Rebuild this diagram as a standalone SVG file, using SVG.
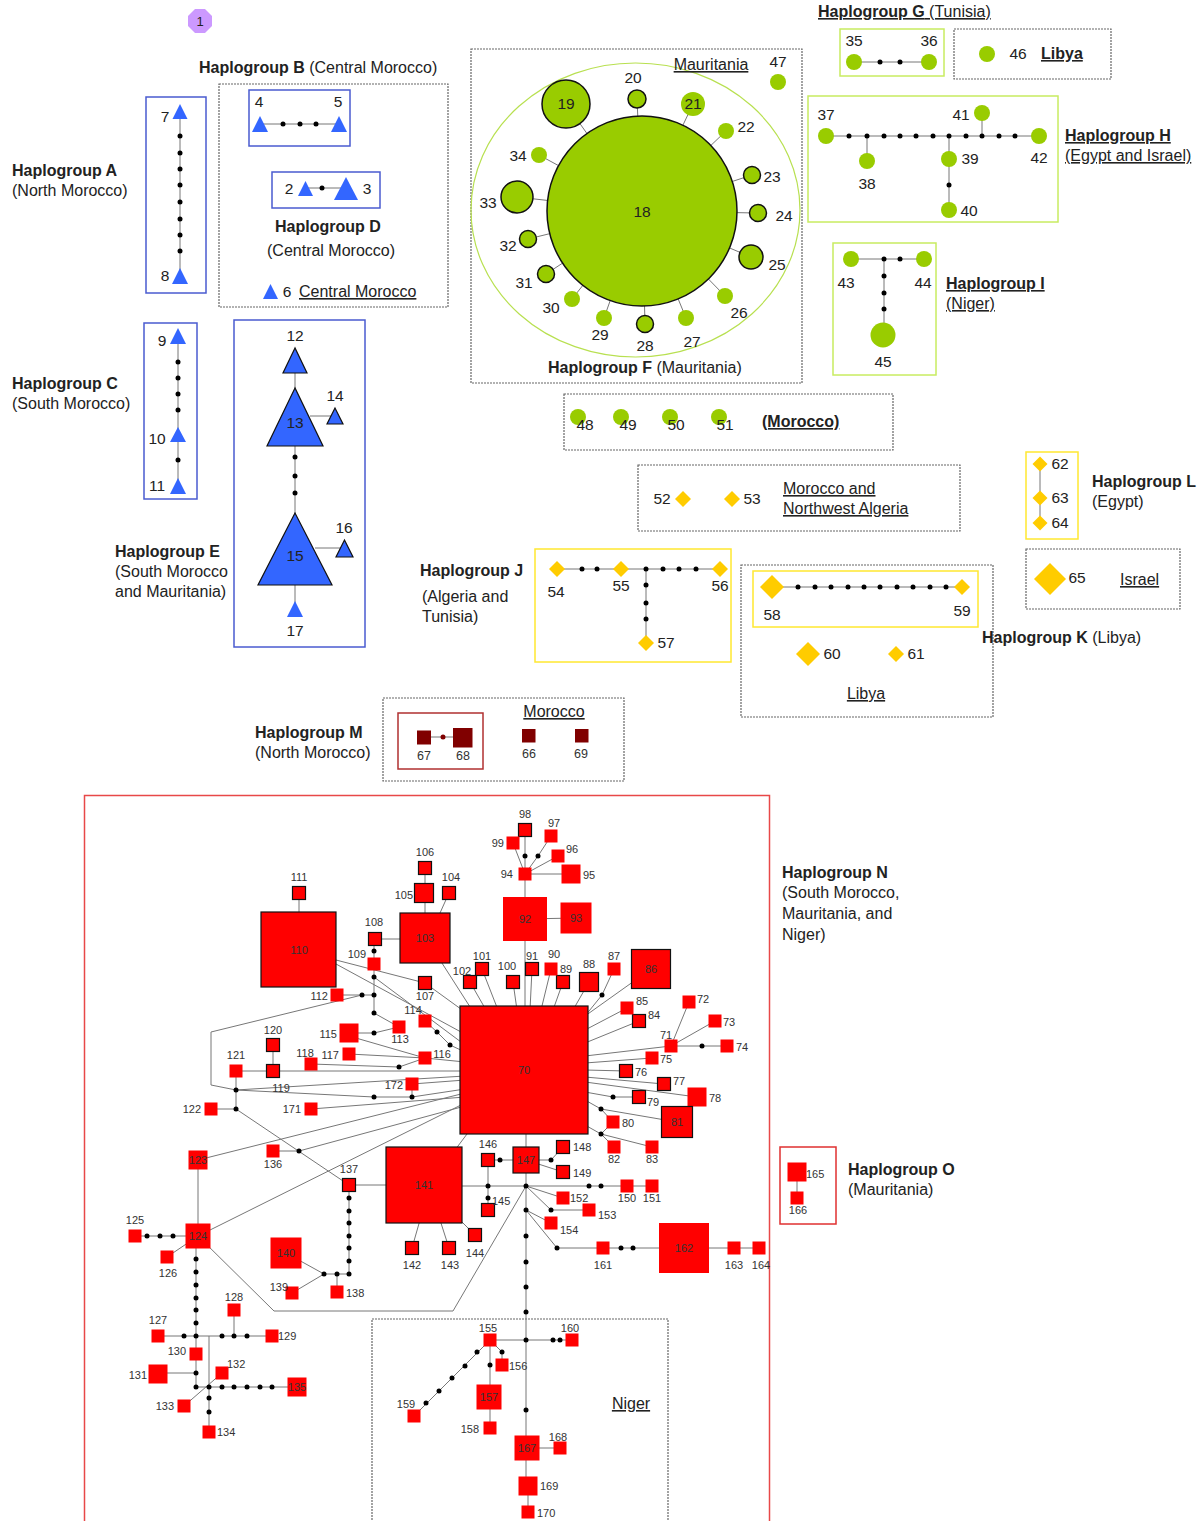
<svg xmlns="http://www.w3.org/2000/svg" width="1204" height="1521" viewBox="0 0 1204 1521">
<style>
text{font-family:"Liberation Sans",Arial,sans-serif;fill:#222}
.h{font-size:16px}
.b{font-weight:bold}
.n{font-size:15.5px}
.s{font-size:11px;fill:#333}
.m{font-size:12.5px;fill:#333}
.u{text-decoration:underline}
.c{text-anchor:middle}
.e{text-anchor:end}
.ln{stroke:#777;stroke-width:1;fill:none}
.dot{fill:#000}
.tri{fill:#3366ff}
.trib{fill:#3366ff;stroke:#111;stroke-width:1.2}
.g{fill:#99cc00}
.gb{fill:#99cc00;stroke:#111;stroke-width:1.5}
.y{fill:#ffcc00}
.r{fill:#ff0000}
.rb{fill:#ff0000;stroke:#111;stroke-width:1.2}
.dr{fill:#800000}
.bbox{fill:none;stroke:#4a5bd0;stroke-width:1.5}
.gbox{fill:none;stroke:#c8ec60;stroke-width:1.5}
.ybox{fill:none;stroke:#ffe830;stroke-width:1.5}
.dbox{fill:none;stroke:#666;stroke-width:1.2;stroke-dasharray:2 1}
</style>
<defs>
<circle id="d" r="2.5" class="dot"/>
</defs>

<!-- marker 1 -->
<g id="marker1">
<polygon points="195,9 205,9 212,16 212,26 205,33 195,33 188,26 188,16" fill="#cc99ff"/>
<text x="200" y="26" class="c" style="font-size:13px">1</text>
</g>

<!-- boxes -->
<g id="boxes">
<rect x="219" y="84" width="229" height="223" class="dbox"/>
<rect x="146" y="97" width="60" height="196" class="bbox"/>
<rect x="249" y="90" width="101" height="56" class="bbox"/>
<rect x="272" y="172" width="108" height="36" class="bbox"/>
<rect x="144" y="323" width="53" height="176" class="bbox"/>
<rect x="234" y="320" width="131" height="327" class="bbox"/>
<rect x="471" y="49" width="331" height="334" class="dbox"/>
<ellipse cx="635.5" cy="210" rx="164.5" ry="147" fill="none" stroke="#b8e050" stroke-width="1.2"/>
<rect x="840" y="29" width="104" height="47" class="gbox"/>
<rect x="954" y="29" width="157" height="50" class="dbox"/>
<rect x="808" y="96" width="250" height="126" class="gbox"/>
<rect x="833" y="243" width="103" height="132" class="gbox"/>
<rect x="564" y="394" width="329" height="56" class="dbox"/>
<rect x="638" y="465" width="322" height="66" class="dbox"/>
<rect x="1026" y="452" width="52" height="87" class="ybox"/>
<rect x="1026" y="549" width="154" height="60" class="dbox"/>
<rect x="535" y="549" width="196" height="113" class="ybox"/>
<rect x="741" y="565" width="252" height="152" class="dbox"/>
<rect x="753" y="571" width="225" height="56" class="ybox"/>
<rect x="383" y="698" width="241" height="83" class="dbox"/>
<rect x="398" y="713" width="85" height="56" fill="none" stroke="#b03030" stroke-width="1.5"/>
<rect x="84.5" y="795.5" width="685" height="740" fill="none" stroke="#e84848" stroke-width="1.5"/>
<rect x="372" y="1319" width="296" height="220" class="dbox"/>
<rect x="780" y="1147" width="56" height="77" fill="none" stroke="#e03030" stroke-width="1.5"/>
</g>

<!-- labels -->
<g id="labels">
<text x="199" y="73" class="h"><tspan class="b">Haplogroup B</tspan> (Central Morocco)</text>
<text x="12" y="176" class="h b">Haplogroup A</text>
<text x="12" y="196" class="h">(North Morocco)</text>
<text x="275" y="232" class="h b">Haplogroup D</text>
<text x="267" y="256" class="h">(Central Morocco)</text>
<text x="299" y="297" class="h u">Central Morocco</text>
<text x="12" y="389" class="h b">Haplogroup C</text>
<text x="12" y="409" class="h">(South Morocco)</text>
<text x="115" y="557" class="h b">Haplogroup E</text>
<text x="115" y="577" class="h">(South Morocco</text>
<text x="115" y="597" class="h">and Mauritania)</text>
<text x="711" y="70" class="h u c">Mauritania</text>
<text x="548" y="373" class="h"><tspan class="b">Haplogroup F</tspan> (Mauritania)</text>
<text x="818" y="17" class="h u"><tspan class="b">Haplogroup G</tspan> (Tunisia)</text>
<text x="1041" y="59" class="h b u">Libya</text>
<text x="1065" y="141" class="h b u">Haplogroup H</text>
<text x="1065" y="161" class="h u">(Egypt and Israel)</text>
<text x="946" y="289" class="h b u">Haplogroup I</text>
<text x="946" y="309" class="h u">(Niger)</text>
<text x="762" y="427" class="h b u">(Morocco)</text>
<text x="783" y="494" class="h u">Morocco and</text>
<text x="783" y="514" class="h u">Northwest Algeria</text>
<text x="1092" y="487" class="h b">Haplogroup L</text>
<text x="1092" y="507" class="h">(Egypt)</text>
<text x="1120" y="585" class="h u">Israel</text>
<text x="420" y="576" class="h b">Haplogroup J</text>
<text x="422" y="602" class="h">(Algeria and</text>
<text x="422" y="622" class="h">Tunisia)</text>
<text x="982" y="643" class="h"><tspan class="b">Haplogroup K</tspan> (Libya)</text>
<text x="866" y="699" class="h u c">Libya</text>
<text x="255" y="738" class="h b">Haplogroup M</text>
<text x="255" y="758" class="h">(North Morocco)</text>
<text x="554" y="717" class="h u c">Morocco</text>
<text x="782" y="878" class="h b">Haplogroup N</text>
<text x="782" y="898" class="h">(South Morocco,</text>
<text x="782" y="919" class="h">Mauritania, and</text>
<text x="782" y="940" class="h">Niger)</text>
<text x="631" y="1409" class="h u c">Niger</text>
<text x="848" y="1175" class="h b">Haplogroup O</text>
<text x="848" y="1195" class="h">(Mauritania)</text>
</g>

<!-- connectors -->
<g id="connectors" class="ln">
<line x1="180" y1="112" x2="180" y2="276"/>
<line x1="260" y1="124" x2="339" y2="124"/>
<line x1="305" y1="188" x2="346" y2="188"/>
<line x1="178" y1="336" x2="178" y2="486"/>
<line x1="295" y1="360" x2="295" y2="610"/>
<line x1="310" y1="416" x2="335" y2="416"/>
<line x1="315" y1="548" x2="344" y2="548"/>
<line x1="642" y1="211" x2="566" y2="104"/>
<line x1="642" y1="211" x2="637" y2="99"/>
<line x1="642" y1="211" x2="693" y2="104"/>
<line x1="642" y1="211" x2="726" y2="131"/>
<line x1="642" y1="211" x2="752" y2="175"/>
<line x1="642" y1="211" x2="758" y2="213"/>
<line x1="642" y1="211" x2="751" y2="257"/>
<line x1="642" y1="211" x2="725" y2="296"/>
<line x1="642" y1="211" x2="686" y2="318"/>
<line x1="642" y1="211" x2="645" y2="324"/>
<line x1="642" y1="211" x2="604" y2="318"/>
<line x1="642" y1="211" x2="572" y2="299"/>
<line x1="642" y1="211" x2="546" y2="274"/>
<line x1="642" y1="211" x2="528" y2="239"/>
<line x1="642" y1="211" x2="517" y2="197"/>
<line x1="642" y1="211" x2="539" y2="155"/>
<line x1="854" y1="62" x2="929" y2="62"/>
<line x1="826" y1="136" x2="1039" y2="136"/>
<line x1="867" y1="136" x2="867" y2="161"/>
<line x1="949" y1="136" x2="949" y2="210"/>
<line x1="982" y1="136" x2="982" y2="113"/>
<line x1="851" y1="259" x2="924" y2="259"/>
<line x1="884" y1="259" x2="884" y2="335"/>
<line x1="557" y1="569" x2="720" y2="569"/>
<line x1="646" y1="569" x2="646" y2="643"/>
<line x1="772" y1="587" x2="962" y2="587"/>
<line x1="1040" y1="464" x2="1040" y2="523"/>
<line x1="424" y1="737" x2="463" y2="737"/>
<line x1="299" y1="893" x2="299" y2="912"/>
<line x1="336" y1="960" x2="425" y2="983"/>
<line x1="336" y1="964" x2="461" y2="1032"/>
<line x1="375" y1="939" x2="400" y2="939"/>
<line x1="374" y1="939" x2="374" y2="1013"/>
<line x1="374" y1="977" x2="461" y2="1042"/>
<line x1="425" y1="868" x2="425" y2="913"/>
<line x1="449" y1="893" x2="440" y2="913"/>
<line x1="440" y1="960" x2="472" y2="1010"/>
<line x1="425" y1="983" x2="465" y2="1012"/>
<line x1="425" y1="1021" x2="437" y2="1032"/>
<polyline points="437,1032 450,1045 465,1052"/>
<line x1="470" y1="982" x2="486" y2="1010"/>
<line x1="482" y1="969" x2="498" y2="1010"/>
<line x1="513" y1="982" x2="517" y2="1010"/>
<line x1="525" y1="830" x2="525" y2="1010"/>
<line x1="532" y1="969" x2="530" y2="1010"/>
<line x1="551" y1="969" x2="541" y2="1010"/>
<line x1="563" y1="982" x2="553" y2="1010"/>
<line x1="589" y1="982" x2="573" y2="1010"/>
<polyline points="614,969 602,995 585,1016"/>
<line x1="651" y1="969" x2="585" y2="1016"/>
<line x1="627" y1="1008" x2="585" y2="1030"/>
<line x1="639" y1="1021" x2="585" y2="1043"/>
<line x1="671" y1="1046" x2="585" y2="1056"/>
<line x1="652" y1="1058" x2="585" y2="1063"/>
<line x1="626" y1="1071" x2="585" y2="1070"/>
<line x1="664" y1="1084" x2="585" y2="1077"/>
<line x1="697" y1="1097" x2="585" y2="1082"/>
<polyline points="639,1097 613,1097 585,1092"/>
<polyline points="585,1100 601,1109 677,1122"/>
<line x1="601" y1="1109" x2="613" y2="1122"/>
<polyline points="585,1125 601,1134 614,1147"/>
<line x1="601" y1="1134" x2="652" y2="1147"/>
<line x1="601" y1="1134" x2="613" y2="1122"/>
<line x1="671" y1="1046" x2="689" y2="1002"/>
<line x1="671" y1="1046" x2="715" y2="1021"/>
<line x1="671" y1="1046" x2="727" y2="1046"/>
<line x1="525" y1="919" x2="576" y2="918"/>
<line x1="525" y1="874" x2="513" y2="843"/>
<polyline points="525,874 538,856 551,836"/>
<line x1="525" y1="874" x2="558" y2="856"/>
<line x1="525" y1="874" x2="571" y2="874"/>
<line x1="337" y1="995" x2="374" y2="995"/>
<line x1="374" y1="1013" x2="399" y2="1027"/>
<polyline points="349,1033 374,1033 399,1027"/>
<line x1="349" y1="1036" x2="425" y2="1058"/>
<line x1="349" y1="1054" x2="425" y2="1058"/>
<polyline points="311,1064 399,1067 425,1058"/>
<line x1="425" y1="1058" x2="465" y2="1062"/>
<line x1="273" y1="1045" x2="273" y2="1071"/>
<line x1="236" y1="1071" x2="465" y2="1071"/>
<line x1="236" y1="1071" x2="236" y2="1109"/>
<line x1="211" y1="1109" x2="236" y2="1109"/>
<polyline points="362,995 211,1032 211,1085 236,1090"/>
<line x1="236" y1="1090" x2="465" y2="1076"/>
<polyline points="236,1090 374,1097 412,1097 465,1089"/>
<line x1="412" y1="1084" x2="412" y2="1097"/>
<line x1="412" y1="1084" x2="465" y2="1080"/>
<line x1="311" y1="1109" x2="465" y2="1097"/>
<line x1="236" y1="1109" x2="349" y2="1185"/>
<line x1="198" y1="1160" x2="465" y2="1093"/>
<polyline points="273,1151 299,1151 465,1106"/>
<line x1="198" y1="1236" x2="465" y2="1103"/>
<line x1="349" y1="1185" x2="424" y2="1185"/>
<polyline points="349,1185 349,1274 324,1274"/>
<line x1="337" y1="1274" x2="337" y2="1292"/>
<line x1="292" y1="1293" x2="324" y2="1274"/>
<line x1="286" y1="1253" x2="324" y2="1274"/>
<line x1="455" y1="1150" x2="470" y2="1130"/>
<line x1="420" y1="1220" x2="412" y2="1248"/>
<line x1="440" y1="1220" x2="449" y2="1248"/>
<line x1="460" y1="1220" x2="475" y2="1235"/>
<line x1="424" y1="1186" x2="526" y2="1186"/>
<line x1="488" y1="1160" x2="526" y2="1160"/>
<line x1="488" y1="1160" x2="488" y2="1210"/>
<line x1="526" y1="1130" x2="526" y2="1486"/>
<polyline points="526,1160 551,1160 563,1147"/>
<line x1="526" y1="1160" x2="563" y2="1172"/>
<line x1="526" y1="1186" x2="652" y2="1186"/>
<line x1="526" y1="1186" x2="563" y2="1198"/>
<polyline points="526,1186 551,1210 589,1210"/>
<line x1="526" y1="1210" x2="551" y2="1223"/>
<polyline points="526,1210 557,1248 759,1248"/>
<polyline points="526,1186 453,1311 274,1311 198,1236"/>
<line x1="198" y1="1160" x2="198" y2="1236"/>
<line x1="135" y1="1236" x2="198" y2="1236"/>
<line x1="167" y1="1257" x2="198" y2="1236"/>
<line x1="196" y1="1236" x2="196" y2="1387"/>
<line x1="158" y1="1336" x2="272" y2="1336"/>
<line x1="234" y1="1310" x2="234" y2="1336"/>
<line x1="158" y1="1373" x2="196" y2="1373"/>
<line x1="209" y1="1336" x2="209" y2="1432"/>
<line x1="196" y1="1387" x2="297" y2="1387"/>
<line x1="184" y1="1406" x2="222" y2="1373"/>
<line x1="490" y1="1340" x2="572" y2="1340"/>
<polyline points="490,1340 502,1352 502,1365"/>
<line x1="490" y1="1340" x2="490" y2="1428"/>
<line x1="490" y1="1340" x2="414" y2="1416"/>
<line x1="527" y1="1448" x2="560" y2="1448"/>
<line x1="528" y1="1486" x2="528" y2="1512"/>
<line x1="797" y1="1172" x2="797" y2="1198"/>
</g>

<!-- connector dots -->
<g id="dots">
<use href="#d" x="180" y="136"/><use href="#d" x="180" y="153"/><use href="#d" x="180" y="169"/><use href="#d" x="180" y="185"/><use href="#d" x="180" y="202"/><use href="#d" x="180" y="219"/><use href="#d" x="180" y="235"/><use href="#d" x="180" y="251"/>
<use href="#d" x="283" y="124"/><use href="#d" x="300" y="124"/><use href="#d" x="316" y="124"/>
<use href="#d" x="322" y="188"/>
<use href="#d" x="178" y="362"/><use href="#d" x="178" y="378"/><use href="#d" x="178" y="394"/><use href="#d" x="178" y="410"/><use href="#d" x="178" y="460"/>
<use href="#d" x="295" y="457"/><use href="#d" x="295" y="476"/><use href="#d" x="295" y="493"/>
<use href="#d" x="880" y="62"/><use href="#d" x="900" y="62"/>
<use href="#d" x="849" y="136"/><use href="#d" x="867" y="136"/><use href="#d" x="884" y="136"/><use href="#d" x="900" y="136"/><use href="#d" x="916" y="136"/><use href="#d" x="933" y="136"/><use href="#d" x="949" y="136"/><use href="#d" x="966" y="136"/><use href="#d" x="982" y="136"/><use href="#d" x="999" y="136"/><use href="#d" x="1015" y="136"/><use href="#d" x="949" y="185"/>
<use href="#d" x="884" y="259"/><use href="#d" x="900" y="259"/><use href="#d" x="884" y="276"/><use href="#d" x="884" y="293"/><use href="#d" x="884" y="309"/>
<use href="#d" x="582" y="569"/><use href="#d" x="597" y="569"/><use href="#d" x="646" y="569"/><use href="#d" x="663" y="569"/><use href="#d" x="679" y="569"/><use href="#d" x="696" y="569"/><use href="#d" x="646" y="585"/><use href="#d" x="646" y="603"/><use href="#d" x="646" y="619"/>
<use href="#d" x="798" y="587"/><use href="#d" x="815" y="587"/><use href="#d" x="831" y="587"/><use href="#d" x="848" y="587"/><use href="#d" x="864" y="587"/><use href="#d" x="880" y="587"/><use href="#d" x="897" y="587"/><use href="#d" x="913" y="587"/><use href="#d" x="930" y="587"/><use href="#d" x="946" y="587"/>
<circle cx="443" cy="737" r="2.5" class="dr"/>
<use href="#d" x="525" y="856"/><use href="#d" x="538" y="856"/><use href="#d" x="602" y="995"/><use href="#d" x="702" y="1046"/><use href="#d" x="613" y="1097"/><use href="#d" x="601" y="1109"/><use href="#d" x="601" y="1134"/>
<use href="#d" x="500" y="1160"/><use href="#d" x="551" y="1160"/><use href="#d" x="526" y="1186"/><use href="#d" x="589" y="1186"/><use href="#d" x="601" y="1186"/><use href="#d" x="488" y="1186"/><use href="#d" x="488" y="1198"/><use href="#d" x="551" y="1210"/><use href="#d" x="526" y="1210"/><use href="#d" x="557" y="1248"/><use href="#d" x="621" y="1248"/><use href="#d" x="633" y="1248"/><use href="#d" x="526" y="1236"/><use href="#d" x="526" y="1262"/><use href="#d" x="526" y="1287"/><use href="#d" x="526" y="1312"/>
<use href="#d" x="374" y="951"/><use href="#d" x="374" y="977"/><use href="#d" x="374" y="995"/><use href="#d" x="362" y="995"/><use href="#d" x="374" y="1013"/><use href="#d" x="374" y="1033"/><use href="#d" x="399" y="1067"/><use href="#d" x="437" y="1032"/><use href="#d" x="450" y="1045"/>
<use href="#d" x="236" y="1090"/><use href="#d" x="374" y="1097"/><use href="#d" x="412" y="1097"/><use href="#d" x="236" y="1109"/><use href="#d" x="299" y="1151"/>
<use href="#d" x="349" y="1198"/><use href="#d" x="349" y="1211"/><use href="#d" x="349" y="1223"/><use href="#d" x="349" y="1236"/><use href="#d" x="349" y="1248"/><use href="#d" x="349" y="1261"/><use href="#d" x="349" y="1274"/><use href="#d" x="337" y="1274"/><use href="#d" x="324" y="1274"/>
<use href="#d" x="147" y="1236"/><use href="#d" x="160" y="1236"/><use href="#d" x="173" y="1236"/>
<use href="#d" x="196" y="1259"/><use href="#d" x="196" y="1272"/><use href="#d" x="196" y="1285"/><use href="#d" x="196" y="1298"/><use href="#d" x="196" y="1310"/><use href="#d" x="196" y="1323"/><use href="#d" x="196" y="1336"/>
<use href="#d" x="184" y="1336"/><use href="#d" x="222" y="1336"/><use href="#d" x="234" y="1336"/><use href="#d" x="247" y="1336"/>
<use href="#d" x="196" y="1373"/><use href="#d" x="196" y="1387"/><use href="#d" x="209" y="1387"/><use href="#d" x="222" y="1387"/><use href="#d" x="234" y="1387"/><use href="#d" x="247" y="1387"/><use href="#d" x="260" y="1387"/><use href="#d" x="272" y="1387"/><use href="#d" x="209" y="1398"/><use href="#d" x="209" y="1412"/>
<use href="#d" x="526" y="1340"/><use href="#d" x="553" y="1340"/><use href="#d" x="560" y="1340"/><use href="#d" x="502" y="1352"/><use href="#d" x="490" y="1365"/><use href="#d" x="477" y="1352"/><use href="#d" x="465" y="1366"/><use href="#d" x="452" y="1378"/><use href="#d" x="439" y="1391"/><use href="#d" x="426" y="1403"/><use href="#d" x="526" y="1410"/>
</g>

<!-- triangle nodes -->
<g id="n7"><polygon points="180,104 172.5,119 187.5,119" class="tri"/><text x="165" y="122" class="n c">7</text></g>
<g id="n8"><polygon points="180,268 172,284 188,284" class="tri"/><text x="165" y="281" class="n c">8</text></g>
<g id="n4"><polygon points="260,116 252,132 268,132" class="tri"/><text x="259" y="107" class="n c">4</text></g>
<g id="n5"><polygon points="339,116 331,132 347,132" class="tri"/><text x="338" y="107" class="n c">5</text></g>
<g id="n2"><polygon points="305.5,181 298,196 313,196" class="tri"/><text x="289" y="194" class="n c">2</text></g>
<g id="n3"><polygon points="346,177 334,200 358,200" class="tri"/><text x="367" y="194" class="n c">3</text></g>
<g id="n6"><polygon points="270.5,284 263,299 278,299" class="tri"/><text x="287" y="297" class="n c">6</text></g>
<g id="n9"><polygon points="178,328 170,344 186,344" class="tri"/><text x="162" y="346" class="n c">9</text></g>
<g id="n10"><polygon points="178,427 170,442 186,442" class="tri"/><text x="157" y="444" class="n c">10</text></g>
<g id="n11"><polygon points="178,478 170,494 186,494" class="tri"/><text x="157" y="491" class="n c">11</text></g>
<g id="n12"><polygon points="295,348 283,373 307,373" class="trib"/><text x="295" y="341" class="n c">12</text></g>
<g id="n13"><polygon points="295,388 267,446 323,446" class="trib"/><text x="295" y="428" class="n c">13</text></g>
<g id="n14"><polygon points="335,408 327,424 343,424" class="trib"/><text x="335" y="401" class="n c">14</text></g>
<g id="n15"><polygon points="295,513 258,585 332,585" class="trib"/><text x="295" y="561" class="n c">15</text></g>
<g id="n16"><polygon points="344.5,540 336,557 353,557" class="trib"/><text x="344" y="533" class="n c">16</text></g>
<g id="n17"><polygon points="295,601 287,617 303,617" class="tri"/><text x="295" y="636" class="n c">17</text></g>

<!-- circle nodes F -->
<g id="n18"><circle cx="642" cy="211" r="95" class="gb"/><text x="642" y="217" class="n c">18</text></g>
<g id="n19"><circle cx="566" cy="104" r="24" class="gb"/><text x="566" y="109" class="n c">19</text></g>
<g id="n20"><circle cx="637" cy="99" r="9" class="gb"/><text x="633" y="83" class="n c">20</text></g>
<g id="n21"><circle cx="693" cy="104" r="12" class="g"/><text x="693" y="109" class="n c">21</text></g>
<g id="n22"><circle cx="726" cy="131" r="8" class="g"/><text x="746" y="132" class="n c">22</text></g>
<g id="n23"><circle cx="752" cy="175" r="8.5" class="gb"/><text x="772" y="182" class="n c">23</text></g>
<g id="n24"><circle cx="758" cy="213" r="8.5" class="gb"/><text x="784" y="221" class="n c">24</text></g>
<g id="n25"><circle cx="751" cy="257" r="12" class="gb"/><text x="777" y="270" class="n c">25</text></g>
<g id="n26"><circle cx="725" cy="296" r="8" class="g"/><text x="739" y="318" class="n c">26</text></g>
<g id="n27"><circle cx="686" cy="318" r="8" class="g"/><text x="692" y="347" class="n c">27</text></g>
<g id="n28"><circle cx="645" cy="324" r="8.5" class="gb"/><text x="645" y="351" class="n c">28</text></g>
<g id="n29"><circle cx="604" cy="318" r="8" class="g"/><text x="600" y="340" class="n c">29</text></g>
<g id="n30"><circle cx="572" cy="299" r="8" class="g"/><text x="551" y="313" class="n c">30</text></g>
<g id="n31"><circle cx="546" cy="274" r="8.5" class="gb"/><text x="524" y="288" class="n c">31</text></g>
<g id="n32"><circle cx="528" cy="239" r="8.5" class="gb"/><text x="508" y="251" class="n c">32</text></g>
<g id="n33"><circle cx="517" cy="197" r="16" class="gb"/><text x="488" y="208" class="n c">33</text></g>
<g id="n34"><circle cx="539" cy="155" r="8" class="g"/><text x="518" y="161" class="n c">34</text></g>
<g id="n47"><circle cx="778" cy="82" r="8" class="g"/><text x="778" y="67" class="n c">47</text></g>

<!-- G H I -->
<g id="n35"><circle cx="854" cy="62" r="8" class="g"/><text x="854" y="46" class="n c">35</text></g>
<g id="n36"><circle cx="929" cy="62" r="8" class="g"/><text x="929" y="46" class="n c">36</text></g>
<g id="n46"><circle cx="987" cy="54" r="8" class="g"/><text x="1018" y="59" class="n c">46</text></g>
<g id="n37"><circle cx="826" cy="136" r="8" class="g"/><text x="826" y="120" class="n c">37</text></g>
<g id="n38"><circle cx="867" cy="161" r="8" class="g"/><text x="867" y="189" class="n c">38</text></g>
<g id="n39"><circle cx="949" cy="159" r="8" class="g"/><text x="970" y="164" class="n c">39</text></g>
<g id="n40"><circle cx="949" cy="210" r="8" class="g"/><text x="969" y="216" class="n c">40</text></g>
<g id="n41"><circle cx="982" cy="113" r="8" class="g"/><text x="961" y="120" class="n c">41</text></g>
<g id="n42"><circle cx="1039" cy="136" r="8" class="g"/><text x="1039" y="163" class="n c">42</text></g>
<g id="n43"><circle cx="851" cy="259" r="8" class="g"/><text x="846" y="288" class="n c">43</text></g>
<g id="n44"><circle cx="924" cy="259" r="8" class="g"/><text x="923" y="288" class="n c">44</text></g>
<g id="n45"><circle cx="883" cy="335" r="12.5" class="g"/><text x="883" y="367" class="n c">45</text></g>

<!-- Morocco circles -->
<g id="n48"><circle cx="578" cy="417" r="8" class="g"/><text x="585" y="430" class="n c">48</text></g>
<g id="n49"><circle cx="621" cy="417" r="8" class="g"/><text x="628" y="430" class="n c">49</text></g>
<g id="n50"><circle cx="670" cy="417" r="8" class="g"/><text x="676" y="430" class="n c">50</text></g>
<g id="n51"><circle cx="719" cy="417" r="8" class="g"/><text x="725" y="430" class="n c">51</text></g>

<!-- diamonds -->
<g id="n52"><polygon points="683,491 691,499 683,507 675,499" class="y"/><text x="662" y="504" class="n c">52</text></g>
<g id="n53"><polygon points="732,491 740,499 732,507 724,499" class="y"/><text x="752" y="504" class="n c">53</text></g>
<g id="n62"><polygon points="1040,456.5 1047.5,464 1040,471.5 1032.5,464" class="y"/><text x="1060" y="469" class="n c">62</text></g>
<g id="n63"><polygon points="1040,490.5 1047.5,498 1040,505.5 1032.5,498" class="y"/><text x="1060" y="503" class="n c">63</text></g>
<g id="n64"><polygon points="1040,515.5 1047.5,523 1040,530.5 1032.5,523" class="y"/><text x="1060" y="528" class="n c">64</text></g>
<g id="n65"><polygon points="1050,563 1066,579 1050,595 1034,579" class="y"/><text x="1077" y="583" class="n c">65</text></g>
<g id="n54"><polygon points="557,561 565,569 557,577 549,569" class="y"/><text x="556" y="597" class="n c">54</text></g>
<g id="n55"><polygon points="621,561 629,569 621,577 613,569" class="y"/><text x="621" y="591" class="n c">55</text></g>
<g id="n56"><polygon points="720,561 728,569 720,577 712,569" class="y"/><text x="720" y="591" class="n c">56</text></g>
<g id="n57"><polygon points="646,635 654,643 646,651 638,643" class="y"/><text x="666" y="648" class="n c">57</text></g>
<g id="n58"><polygon points="772,575 784,587 772,599 760,587" class="y"/><text x="772" y="620" class="n c">58</text></g>
<g id="n59"><polygon points="962,579 970,587 962,595 954,587" class="y"/><text x="962" y="616" class="n c">59</text></g>
<g id="n60"><polygon points="808,642 820,654 808,666 796,654" class="y"/><text x="832" y="659" class="n c">60</text></g>
<g id="n61"><polygon points="896,646 904,654 896,662 888,654" class="y"/><text x="916" y="659" class="n c">61</text></g>

<!-- M -->
<g id="n67"><rect x="417" y="730.5" width="14" height="14" class="dr"/><text x="424" y="760" class="m c">67</text></g>
<g id="n68"><rect x="453" y="728" width="19.5" height="19.5" class="dr"/><text x="463" y="760" class="m c">68</text></g>
<g id="n66"><rect x="522" y="729" width="13.5" height="13.5" class="dr"/><text x="529" y="758" class="m c">66</text></g>
<g id="n69"><rect x="575" y="729" width="13.5" height="13.5" class="dr"/><text x="581" y="758" class="m c">69</text></g>

<!-- N nodes -->
<g id="n70"><rect x="460" y="1006" width="128" height="128" class="rb"/><text x="524" y="1074" class="s c">70</text></g>
<g id="n71"><rect x="664.5" y="1039.5" width="13" height="13" class="r"/><text x="666" y="1039" class="s c">71</text></g>
<g id="n72"><rect x="682.5" y="995.5" width="13" height="13" class="r"/><text x="697" y="1003" class="s">72</text></g>
<g id="n73"><rect x="708.5" y="1014.5" width="13" height="13" class="r"/><text x="723" y="1026" class="s">73</text></g>
<g id="n74"><rect x="720.5" y="1039.5" width="13" height="13" class="r"/><text x="736" y="1051" class="s">74</text></g>
<g id="n75"><rect x="645.5" y="1051.5" width="13" height="13" class="r"/><text x="660" y="1063" class="s">75</text></g>
<g id="n76"><rect x="619.5" y="1064.5" width="13" height="13" class="rb"/><text x="635" y="1076" class="s">76</text></g>
<g id="n77"><rect x="657.5" y="1077.5" width="13" height="13" class="rb"/><text x="673" y="1085" class="s">77</text></g>
<g id="n78"><rect x="687.5" y="1087.5" width="19" height="19" class="r"/><text x="709" y="1102" class="s">78</text></g>
<g id="n79"><rect x="632.5" y="1090.5" width="13" height="13" class="rb"/><text x="647" y="1106" class="s">79</text></g>
<g id="n80"><rect x="606.5" y="1115.5" width="13" height="13" class="r"/><text x="622" y="1127" class="s">80</text></g>
<g id="n81"><rect x="661.5" y="1106.5" width="31" height="31" class="rb"/><text x="677" y="1126" class="s c">81</text></g>
<g id="n82"><rect x="607.5" y="1140.5" width="13" height="13" class="r"/><text x="614" y="1163" class="s c">82</text></g>
<g id="n83"><rect x="645.5" y="1140.5" width="13" height="13" class="r"/><text x="652" y="1163" class="s c">83</text></g>
<g id="n84"><rect x="632.5" y="1014.5" width="13" height="13" class="rb"/><text x="648" y="1019" class="s">84</text></g>
<g id="n85"><rect x="620.5" y="1001.5" width="13" height="13" class="r"/><text x="636" y="1005" class="s">85</text></g>
<g id="n86"><rect x="631.5" y="949.5" width="39" height="39" class="rb"/><text x="651" y="973" class="s c">86</text></g>
<g id="n87"><rect x="607.5" y="962.5" width="13" height="13" class="r"/><text x="614" y="960" class="s c">87</text></g>
<g id="n88"><rect x="579.5" y="972.5" width="19" height="19" class="rb"/><text x="589" y="968" class="s c">88</text></g>
<g id="n89"><rect x="556.5" y="975.5" width="13" height="13" class="rb"/><text x="566" y="973" class="s c">89</text></g>
<g id="n90"><rect x="544.5" y="962.5" width="13" height="13" class="r"/><text x="554" y="958" class="s c">90</text></g>
<g id="n91"><rect x="525.5" y="962.5" width="13" height="13" class="rb"/><text x="532" y="960" class="s c">91</text></g>
<g id="n92"><rect x="503" y="897" width="44" height="44" class="r"/><text x="525" y="923" class="s c">92</text></g>
<g id="n93"><rect x="560.5" y="902.5" width="31" height="31" class="r"/><text x="576" y="922" class="s c">93</text></g>
<g id="n94"><rect x="518.5" y="867.5" width="13" height="13" class="r"/><text x="513" y="878" class="s e">94</text></g>
<g id="n95"><rect x="561.5" y="864.5" width="19" height="19" class="r"/><text x="583" y="879" class="s">95</text></g>
<g id="n96"><rect x="551.5" y="849.5" width="13" height="13" class="r"/><text x="566" y="853" class="s">96</text></g>
<g id="n97"><rect x="544.5" y="829.5" width="13" height="13" class="r"/><text x="554" y="827" class="s c">97</text></g>
<g id="n98"><rect x="518.5" y="823.5" width="13" height="13" class="rb"/><text x="525" y="818" class="s c">98</text></g>
<g id="n99"><rect x="506.5" y="836.5" width="13" height="13" class="r"/><text x="504" y="847" class="s e">99</text></g>
<g id="n100"><rect x="506.5" y="975.5" width="13" height="13" class="rb"/><text x="507" y="970" class="s c">100</text></g>
<g id="n101"><rect x="475.5" y="962.5" width="13" height="13" class="rb"/><text x="482" y="960" class="s c">101</text></g>
<g id="n102"><rect x="463.5" y="975.5" width="13" height="13" class="rb"/><text x="462" y="975" class="s c">102</text></g>
<g id="n103"><rect x="400" y="913" width="50" height="50" class="rb"/><text x="425" y="942" class="s c">103</text></g>
<g id="n104"><rect x="442.5" y="886.5" width="13" height="13" class="rb"/><text x="451" y="881" class="s c">104</text></g>
<g id="n105"><rect x="414.5" y="883.5" width="19" height="19" class="rb"/><text x="413" y="899" class="s e">105</text></g>
<g id="n106"><rect x="418.5" y="861.5" width="13" height="13" class="rb"/><text x="425" y="856" class="s c">106</text></g>
<g id="n107"><rect x="418.5" y="976.5" width="13" height="13" class="rb"/><text x="425" y="1000" class="s c">107</text></g>
<g id="n108"><rect x="368.5" y="932.5" width="13" height="13" class="rb"/><text x="374" y="926" class="s c">108</text></g>
<g id="n109"><rect x="367.5" y="957.5" width="13" height="13" class="r"/><text x="366" y="958" class="s e">109</text></g>
<g id="n110"><rect x="261" y="912" width="75" height="75" class="rb"/><text x="299" y="954" class="s c">110</text></g>
<g id="n111"><rect x="292.5" y="886.5" width="13" height="13" class="rb"/><text x="299" y="881" class="s c">111</text></g>
<g id="n112"><rect x="330.5" y="988.5" width="13" height="13" class="r"/><text x="328" y="1000" class="s e">112</text></g>
<g id="n113"><rect x="392.5" y="1020.5" width="13" height="13" class="r"/><text x="400" y="1043" class="s c">113</text></g>
<g id="n114"><rect x="418.5" y="1014.5" width="13" height="13" class="r"/><text x="413" y="1014" class="s c">114</text></g>
<g id="n115"><rect x="339.5" y="1023.5" width="19" height="19" class="r"/><text x="337" y="1038" class="s e">115</text></g>
<g id="n116"><rect x="418.5" y="1051.5" width="13" height="13" class="r"/><text x="442" y="1058" class="s c">116</text></g>
<g id="n117"><rect x="342.5" y="1047.5" width="13" height="13" class="r"/><text x="339" y="1059" class="s e">117</text></g>
<g id="n118"><rect x="304.5" y="1057.5" width="13" height="13" class="r"/><text x="305" y="1057" class="s c">118</text></g>
<g id="n119"><rect x="266.5" y="1064.5" width="13" height="13" class="rb"/><text x="281" y="1092" class="s c">119</text></g>
<g id="n120"><rect x="266.5" y="1038.5" width="13" height="13" class="rb"/><text x="273" y="1034" class="s c">120</text></g>
<g id="n121"><rect x="229.5" y="1064.5" width="13" height="13" class="r"/><text x="236" y="1059" class="s c">121</text></g>
<g id="n122"><rect x="204.5" y="1102.5" width="13" height="13" class="r"/><text x="201" y="1113" class="s e">122</text></g>
<g id="n123"><rect x="188.5" y="1150.5" width="19" height="19" class="r"/><text x="198" y="1164" class="s c">123</text></g>
<g id="n124"><rect x="185.5" y="1223.5" width="25" height="25" class="r"/><text x="198" y="1240" class="s c">124</text></g>
<g id="n125"><rect x="128.5" y="1229.5" width="13" height="13" class="r"/><text x="135" y="1224" class="s c">125</text></g>
<g id="n126"><rect x="160.5" y="1250.5" width="13" height="13" class="r"/><text x="168" y="1277" class="s c">126</text></g>
<g id="n127"><rect x="151.5" y="1329.5" width="13" height="13" class="r"/><text x="158" y="1324" class="s c">127</text></g>
<g id="n128"><rect x="227.5" y="1303.5" width="13" height="13" class="r"/><text x="234" y="1301" class="s c">128</text></g>
<g id="n129"><rect x="265.5" y="1329.5" width="13" height="13" class="r"/><text x="278" y="1340" class="s">129</text></g>
<g id="n130"><rect x="189.5" y="1347.5" width="13" height="13" class="r"/><text x="186" y="1355" class="s e">130</text></g>
<g id="n131"><rect x="148.5" y="1364.5" width="19" height="19" class="r"/><text x="147" y="1379" class="s e">131</text></g>
<g id="n132"><rect x="215.5" y="1366.5" width="13" height="13" class="r"/><text x="227" y="1368" class="s">132</text></g>
<g id="n133"><rect x="177.5" y="1399.5" width="13" height="13" class="r"/><text x="174" y="1410" class="s e">133</text></g>
<g id="n134"><rect x="202.5" y="1425.5" width="13" height="13" class="r"/><text x="217" y="1436" class="s">134</text></g>
<g id="n135"><rect x="287.5" y="1377.5" width="19" height="19" class="r"/><text x="297" y="1391" class="s c">135</text></g>
<g id="n136"><rect x="266.5" y="1144.5" width="13" height="13" class="r"/><text x="273" y="1168" class="s c">136</text></g>
<g id="n137"><rect x="342.5" y="1178.5" width="13" height="13" class="rb"/><text x="349" y="1173" class="s c">137</text></g>
<g id="n138"><rect x="330.5" y="1285.5" width="13" height="13" class="r"/><text x="346" y="1297" class="s">138</text></g>
<g id="n139"><rect x="285.5" y="1286.5" width="13" height="13" class="r"/><text x="288" y="1291" class="s e">139</text></g>
<g id="n140"><rect x="270.5" y="1237.5" width="31" height="31" class="r"/><text x="286" y="1257" class="s c">140</text></g>
<g id="n141"><rect x="386" y="1147" width="76" height="76" class="rb"/><text x="424" y="1189" class="s c">141</text></g>
<g id="n142"><rect x="405.5" y="1241.5" width="13" height="13" class="rb"/><text x="412" y="1269" class="s c">142</text></g>
<g id="n143"><rect x="442.5" y="1241.5" width="13" height="13" class="rb"/><text x="450" y="1269" class="s c">143</text></g>
<g id="n144"><rect x="468.5" y="1228.5" width="13" height="13" class="rb"/><text x="475" y="1257" class="s c">144</text></g>
<g id="n145"><rect x="481.5" y="1203.5" width="13" height="13" class="rb"/><text x="492" y="1205" class="s">145</text></g>
<g id="n146"><rect x="481.5" y="1153.5" width="13" height="13" class="rb"/><text x="488" y="1148" class="s c">146</text></g>
<g id="n147"><rect x="513" y="1147" width="26" height="26" class="rb"/><text x="526" y="1164" class="s c">147</text></g>
<g id="n148"><rect x="556.5" y="1140.5" width="13" height="13" class="rb"/><text x="573" y="1151" class="s">148</text></g>
<g id="n149"><rect x="556.5" y="1165.5" width="13" height="13" class="rb"/><text x="573" y="1177" class="s">149</text></g>
<g id="n150"><rect x="620.5" y="1179.5" width="13" height="13" class="r"/><text x="627" y="1202" class="s c">150</text></g>
<g id="n151"><rect x="645.5" y="1179.5" width="13" height="13" class="r"/><text x="652" y="1202" class="s c">151</text></g>
<g id="n152"><rect x="556.5" y="1191.5" width="13" height="13" class="r"/><text x="570" y="1202" class="s">152</text></g>
<g id="n153"><rect x="582.5" y="1203.5" width="13" height="13" class="r"/><text x="598" y="1219" class="s">153</text></g>
<g id="n154"><rect x="544.5" y="1216.5" width="13" height="13" class="r"/><text x="560" y="1234" class="s">154</text></g>
<g id="n155"><rect x="483.5" y="1333.5" width="13" height="13" class="r"/><text x="488" y="1332" class="s c">155</text></g>
<g id="n156"><rect x="495.5" y="1358.5" width="13" height="13" class="r"/><text x="509" y="1370" class="s">156</text></g>
<g id="n157"><rect x="476.5" y="1384.5" width="25" height="25" class="r"/><text x="489" y="1401" class="s c">157</text></g>
<g id="n158"><rect x="483.5" y="1421.5" width="13" height="13" class="r"/><text x="479" y="1433" class="s e">158</text></g>
<g id="n159"><rect x="407.5" y="1409.5" width="13" height="13" class="r"/><text x="406" y="1408" class="s c">159</text></g>
<g id="n160"><rect x="565.5" y="1333.5" width="13" height="13" class="r"/><text x="570" y="1332" class="s c">160</text></g>
<g id="n161"><rect x="596.5" y="1241.5" width="13" height="13" class="r"/><text x="603" y="1269" class="s c">161</text></g>
<g id="n162"><rect x="659" y="1223" width="50" height="50" class="r"/><text x="684" y="1252" class="s c">162</text></g>
<g id="n163"><rect x="727.5" y="1241.5" width="13" height="13" class="r"/><text x="734" y="1269" class="s c">163</text></g>
<g id="n164"><rect x="752.5" y="1241.5" width="13" height="13" class="r"/><text x="761" y="1269" class="s c">164</text></g>
<g id="n165"><rect x="787.5" y="1162.5" width="19" height="19" class="r"/><text x="806" y="1178" class="s">165</text></g>
<g id="n166"><rect x="790.5" y="1191.5" width="13" height="13" class="r"/><text x="798" y="1214" class="s c">166</text></g>
<g id="n167"><rect x="514.5" y="1435.5" width="25" height="25" class="r"/><text x="527" y="1452" class="s c">167</text></g>
<g id="n168"><rect x="553.5" y="1441.5" width="13" height="13" class="r"/><text x="558" y="1441" class="s c">168</text></g>
<g id="n169"><rect x="518.5" y="1476.5" width="19" height="19" class="r"/><text x="540" y="1490" class="s">169</text></g>
<g id="n170"><rect x="521.5" y="1505.5" width="13" height="13" class="r"/><text x="537" y="1517" class="s">170</text></g>
<g id="n171"><rect x="304.5" y="1102.5" width="13" height="13" class="r"/><text x="301" y="1113" class="s e">171</text></g>
<g id="n172"><rect x="405.5" y="1077.5" width="13" height="13" class="r"/><text x="403" y="1089" class="s e">172</text></g>
</svg>
